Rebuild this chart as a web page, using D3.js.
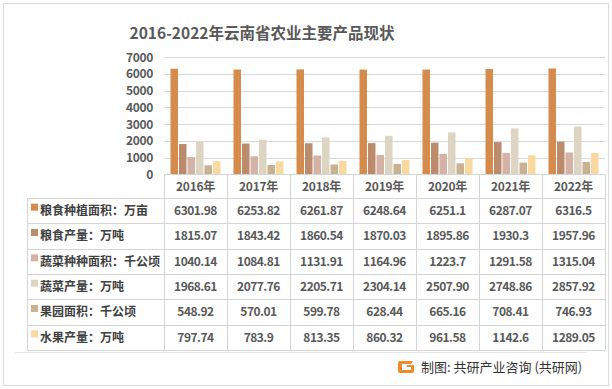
<!DOCTYPE html>
<html>
<head>
<meta charset="utf-8">
<script src="https://cdn.jsdelivr.net/npm/d3@7"></script>
<style>
  body { margin: 0; background: #fff; }
  svg { display: block; font-family: "Noto Sans CJK SC", "Noto Sans", sans-serif; }
</style>
</head>
<body>
<div id="chart"></div>
<script>
var years = ["2016年", "2017年", "2018年", "2019年", "2020年", "2021年", "2022年"];
var seriesNames = ["粮食种植面积：万亩", "粮食产量：万吨", "蔬菜种种面积：千公顷",
                   "蔬菜产量：万吨", "果园面积：千公顷", "水果产量：万吨"];
var seriesColors = ["#D58B4C", "#BC8B6C", "#D4B3A6", "#DDD5C2", "#C8B292", "#F9D9A0"];
var grainArea   = [6301.98, 6253.82, 6261.87, 6248.64, 6251.1, 6287.07, 6316.5];
var grainOutput = [1815.07, 1843.42, 1860.54, 1870.03, 1895.86, 1930.3, 1957.96];
var vegArea     = [1040.14, 1084.81, 1131.91, 1164.96, 1223.7, 1291.58, 1315.04];
var vegOutput   = [1968.61, 2077.76, 2205.71, 2304.14, 2507.90, 2748.86, 2857.92];
var orchardArea = [548.92, 570.01, 599.78, 628.44, 665.16, 708.41, 746.93];
var fruitOutput = [797.74, 783.9, 813.35, 860.32, 961.58, 1142.6, 1289.05];
// texts shown in the table, as printed in the source
var tableText = [
  ["6301.98", "6253.82", "6261.87", "6248.64", "6251.1", "6287.07", "6316.5"],
  ["1815.07", "1843.42", "1860.54", "1870.03", "1895.86", "1930.3", "1957.96"],
  ["1040.14", "1084.81", "1131.91", "1164.96", "1223.7", "1291.58", "1315.04"],
  ["1968.61", "2077.76", "2205.71", "2304.14", "2507.90", "2748.86", "2857.92"],
  ["548.92", "570.01", "599.78", "628.44", "665.16", "708.41", "746.93"],
  ["797.74", "783.9", "813.35", "860.32", "961.58", "1142.6", "1289.05"]
];
var yTicks = [0, 1000, 2000, 3000, 4000, 5000, 6000, 7000];

var series = [grainArea, grainOutput, vegArea, vegOutput, orchardArea, fruitOutput];

var W = 612, H = 389;
var svg = d3.select("#chart").append("svg").attr("width", W).attr("height", H);

// frame
svg.append("rect").attr("x", 3.5).attr("y", 3.5).attr("width", 605).attr("height", 382)
  .attr("fill", "#fff").attr("stroke", "#d9d9d9");

// title
svg.append("text").attr("x", 262).attr("y", 39).attr("text-anchor", "middle")
  .attr("font-size", 15.5).attr("font-weight", "bold").attr("fill", "#595959")
  .text("2016-2022年云南省农业主要产品现状");

var left = 164, right = 605;
var x = d3.scaleBand().domain(years).range([left, right]);
var xs = d3.scaleBand().domain(d3.range(series.length))
  .range([6.5, x.bandwidth() - 6.5]).paddingInner(0.12);
var y = d3.scaleLinear().domain([0, 7000]).range([174.5, 57]);

// gridlines
svg.selectAll(".grid").data(yTicks.slice(1)).enter().append("line")
  .attr("x1", left).attr("x2", right)
  .attr("y1", function(d) { return Math.round(y(d)) + 0.5; })
  .attr("y2", function(d) { return Math.round(y(d)) + 0.5; })
  .attr("stroke", "#d9d9d9");

// y tick labels
svg.selectAll(".ytick").data(yTicks).enter().append("text")
  .attr("x", 153).attr("y", function(d) { return y(d) + 4.5; })
  .attr("text-anchor", "end").attr("font-size", 12).attr("font-weight", "bold")
  .attr("letter-spacing", -0.3)
  .attr("fill", "#595959")
  .text(function(d) { return d; });

// bars
var groups = svg.selectAll(".yr").data(years).enter().append("g")
  .attr("transform", function(d) { return "translate(" + x(d) + ",0)"; });
groups.selectAll("rect")
  .data(function(d, i) { return series.map(function(s, k) { return {k: k, v: s[i]}; }); })
  .enter().append("rect")
  .attr("x", function(d) { return xs(d.k); })
  .attr("width", xs.bandwidth())
  .attr("y", function(d) { return y(d.v); })
  .attr("height", function(d) { return y(0) - y(d.v); })
  .attr("fill", function(d) { return seriesColors[d.k]; });

// data table
var headTop = 174.5, headBottom = 198, tableBottom = 350, tableLeft = 27;
var rowY = d3.scaleBand().domain(d3.range(series.length)).range([headBottom, tableBottom]);
var lineColor = "#d4d4d4";

// axis line / top of table
svg.append("line").attr("x1", left).attr("x2", right).attr("y1", headTop).attr("y2", headTop)
  .attr("stroke", lineColor);
// horizontal lines
var hLines = d3.range(series.length + 1).map(function(i) {
  return i < series.length ? rowY(i) : tableBottom;
});
svg.selectAll(".hl").data(hLines).enter().append("line")
  .attr("x1", tableLeft).attr("x2", right)
  .attr("y1", function(d) { return Math.round(d) + 0.5; })
  .attr("y2", function(d) { return Math.round(d) + 0.5; })
  .attr("stroke", lineColor);
// vertical lines
var vLines = years.map(function(d) { return x(d); }).concat([right]);
svg.selectAll(".vl").data(vLines).enter().append("line")
  .attr("x1", function(d) { return Math.round(d) + 0.5; })
  .attr("x2", function(d) { return Math.round(d) + 0.5; })
  .attr("y1", headTop).attr("y2", tableBottom)
  .attr("stroke", lineColor);
svg.append("line").attr("x1", tableLeft + 0.5).attr("x2", tableLeft + 0.5)
  .attr("y1", headBottom).attr("y2", tableBottom).attr("stroke", lineColor);

// header
svg.selectAll(".hd").data(years).enter().append("text")
  .attr("x", function(d) { return x(d) + x.bandwidth() / 2; })
  .attr("y", (headTop + headBottom) / 2 + 4.5)
  .attr("text-anchor", "middle").attr("font-size", 12).attr("font-weight", "bold")
  .attr("letter-spacing", -0.3)
  .attr("fill", "#595959")
  .text(function(d) { return d; });

// row labels with legend keys
var rows = svg.selectAll(".row").data(seriesNames).enter().append("g")
  .attr("transform", function(d, i) { return "translate(0," + rowY(i) + ")"; });
rows.append("rect").attr("x", 31).attr("y", rowY.bandwidth() / 2 - 7)
  .attr("width", 7).attr("height", 7)
  .attr("fill", function(d, i) { return seriesColors[i]; });
rows.append("text").attr("x", 40).attr("y", rowY.bandwidth() / 2 + 4.5)
  .attr("font-size", 12).attr("font-weight", "bold").attr("fill", "#404040")
  .text(function(d) { return d; });
rows.selectAll(".cell").data(function(d, i) { return tableText[i]; }).enter().append("text")
  .attr("x", function(d, j) { return x(years[j]) + x.bandwidth() / 2; })
  .attr("y", rowY.bandwidth() / 2 + 4.5)
  .attr("text-anchor", "middle").attr("font-size", 12).attr("font-weight", "bold")
  .attr("letter-spacing", -0.5)
  .attr("fill", "#595959")
  .text(function(d) { return d; });

// plot area bottom line
svg.append("line").attr("x1", 15).attr("x2", 587).attr("y1", 352.5).attr("y2", 352.5)
  .attr("stroke", "#e6e6e6");

// source note with small logo
var logo = svg.append("g").attr("transform", "translate(398,361)");
logo.append("path")
  .attr("d", "M2,0 H15 L13,3 H4 V9 H13 V6 H8 L9.5,4 H16 V10 Q16,12 14,12 H2 Q0,12 0,10 V2 Q0,0 2,0 Z")
  .attr("fill", "#F08A2E");
svg.append("text").attr("x", 421).attr("y", 372)
  .attr("font-size", 13).attr("fill", "#333")
  .text("制图: 共研产业咨询 (共研网)");
</script>
</body>
</html>
